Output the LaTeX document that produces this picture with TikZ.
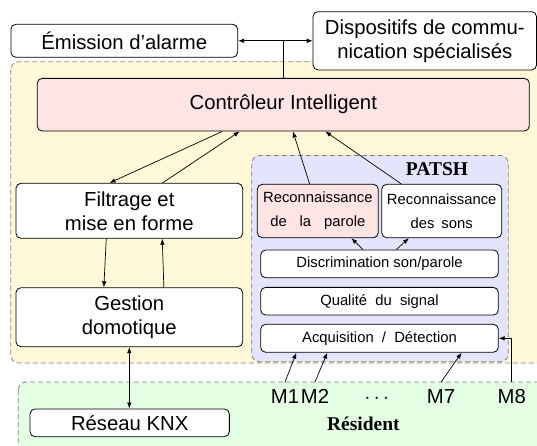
\documentclass[tikz,border=0pt]{standalone}
\usepackage{fontspec}
\setmainfont{Liberation Sans}
\newfontfamily\serifbf{Liberation Serif}
\usetikzlibrary{arrows.meta,calc}
\definecolor{yellowbg}{RGB}{255,249,217}
\definecolor{pinkbg}{RGB}{255,228,228}
\definecolor{bluebg}{RGB}{228,228,252}
\definecolor{greenbg}{RGB}{228,255,228}
\begin{document}
\begin{tikzpicture}[x=1pt,y=-1pt,
  box/.style={draw, rounded corners=5pt, fill=white, line width=0.8pt, inner sep=0pt, align=center},
  big/.style={font=\fontsize{20.3}{24}\selectfont},
  small/.style={font=\fontsize{14.8}{24}\selectfont},
  region/.style={draw=gray, dash pattern=on 5pt off 3pt, rounded corners=8pt, line width=0.8pt},
  arr/.style={-{Latex[length=6pt,width=4.5pt]}, line width=0.7pt},
  darr/.style={{Latex[length=6pt,width=4.5pt]}-{Latex[length=6pt,width=4.5pt]}, line width=0.7pt},
  mlab/.style={anchor=base, inner ysep=7pt, inner xsep=0pt, font=\fontsize{20.3}{24}\selectfont}]
\useasboundingbox (0,0) rectangle (537,445);
\clip (0,0) rectangle (537,445);
% regions
\path[region, fill=yellowbg] (10.7,61.7) rectangle (560,363);
\path[region, fill=bluebg] (251.7,155.5) rectangle (508.3,361.7);
\path[region, fill=greenbg] (18.3,382) rectangle (560,470);
% boxes
\node[box, big, minimum width=226.7pt, minimum height=33pt] (emission) at (124.3,40.8) {Émission d’alarme};
\node[box, big, minimum width=223.5pt, minimum height=58.3pt] (disp) at (424.8,40.8) {Dispositifs de commu-\\nication spécialisés};
\node[box, big, fill=pinkbg, minimum width=492pt, minimum height=52.7pt] (ctrl) at (283.3,104.7) {Contrôleur Intelligent};
\node[box, big, minimum width=226.7pt, minimum height=55pt] (filt) at (129.3,210.8) {Filtrage et\\mise en forme};
\node[box, big, minimum width=226.7pt, minimum height=59pt] (gest) at (129.3,317.2) {Gestion\\domotique};
\node[box, small, fill=pinkbg, minimum width=121pt, minimum height=53.4pt] (rp) at (317.8,211) {Reconnaissance\\\makebox[95pt][s]{de la parole}};
\node[box, small, minimum width=120pt, minimum height=53.4pt] (rs) at (441.7,211) {Reconnaissance\\\makebox[62pt][s]{des sons}};
\node[box, small, minimum width=237.6pt, minimum height=27.7pt] (disc) at (379.5,263.8) {Discrimination son/parole};
\node[box, small, minimum width=237.6pt, minimum height=27.7pt] (qual) at (379.5,301.2) {Qualité\ \ du\ \ signal};
\node[box, small, minimum width=237.6pt, minimum height=28pt] (acq) at (379.5,338.3) {Acquisition\ \ /\ \ Détection};
\node[box, big, minimum width=199.3pt, minimum height=27.7pt] (reseau) at (129.7,422.8) {Réseau KNX};
% labels
\node[anchor=base, font=\serifbf\bfseries\fontsize{19.5}{22}\selectfont, inner sep=0pt] (patsh) at (437,175.7) {PATSH};
\node[anchor=base, font=\serifbf\bfseries\fontsize{19.5}{22}\selectfont, inner sep=0pt] (resident) at (363.3,430.7) {Résident};
\node[mlab] (m1) at (285,403.3) {M1};
\node[mlab] (m2) at (315,403.3) {M2};
\node[mlab] (dots) at (376.7,403.3) {$\cdots$};
\node[mlab] (m7) at (441,403.3) {M7};
\node[mlab] (m8) at (511.7,403.3) {M8};
% connectors
\draw[arr] (ctrl.north) |- (emission.east);
\draw[arr] (ctrl.north) |- (disp.west);
\draw[arr] ([xshift=185.4pt]ctrl.south west) -- ([xshift=94pt]filt.north west);
\draw[arr] ([xshift=147pt]filt.north west) -- ([xshift=202.7pt]ctrl.south west);
\draw[arr] ([xshift=90.7pt]filt.south west) -- ([xshift=88.3pt]gest.north west);
\draw[arr] ([xshift=148.3pt]gest.north west) -- ([xshift=146.7pt]filt.south west);
\draw[darr] (gest.south) -- (gest.south |- reseau.north);
\draw[arr] ([xshift=52.7pt]rp.north west) -- ([xshift=256pt]ctrl.south west);
\draw[arr] ([xshift=20pt]rs.north west) -- ([xshift=288.4pt]ctrl.south west);
\draw[arr] ([xshift=102.6pt]disc.north west) -- ([xshift=94.4pt]rp.south west);
\draw[arr] ([xshift=136pt]disc.north west) -- ([xshift=27.6pt]rs.south west);
\draw[arr] (m1.north) -- ([xshift=36pt]acq.south west);
\draw[arr] (m2.north) -- ([xshift=67pt]acq.south west);
\draw[arr] (m7.north) -- ([xshift=201.3pt]acq.south west);
\draw[arr] (m8.north) |- (acq.east);
\end{tikzpicture}
\end{document}
